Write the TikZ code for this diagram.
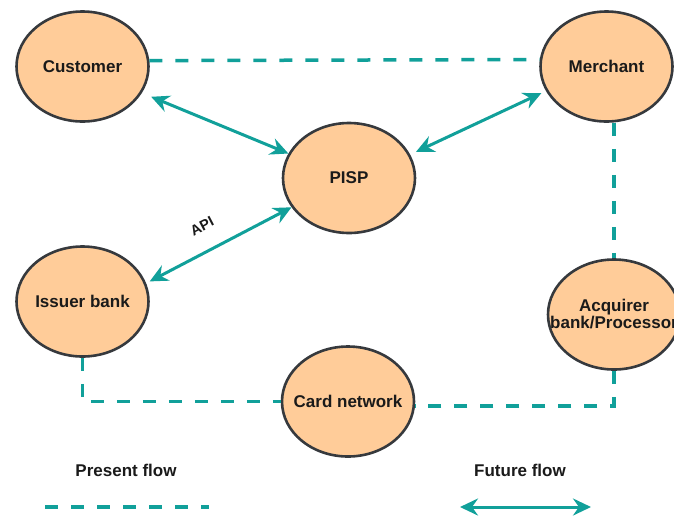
\documentclass[tikz,border=0pt]{standalone}
\usepackage{fontspec}
\setmainfont{Liberation Sans}
\usetikzlibrary{shapes.geometric,arrows.meta}
\definecolor{teal1}{HTML}{11A09A}
\definecolor{peach}{HTML}{FFCC99}
\definecolor{rim}{HTML}{36393D}
\definecolor{ink}{HTML}{1A1A1A}
\begin{document}
\begin{tikzpicture}[x=1pt,y=-1pt,
 party/.style={ellipse, draw=rim, fill=peach, line width=2.6pt, minimum width=132pt, minimum height=110pt, inner sep=0pt},
 lbl/.style={font=\bfseries\fontsize{17}{17}\selectfont, text=ink, align=center},
 present/.style={draw=teal1, line width=3.5pt, dash pattern=on 13pt off 13pt},
 tipA/.tip={Stealth[length=18pt,width=17pt,inset=6pt]},
 future/.style={draw=teal1, line width=3pt, tipA-tipA}
]
\useasboundingbox (0,0) rectangle (674,515);
\node[party, label={[lbl]center:Customer}] (cust) at (82.5,66.5) {};
\node[party, label={[lbl]center:Merchant}] (merch) at (606.5,66.5) {};
\node[party, label={[lbl]center:PISP}] (pisp) at (349,178) {};
\node[party, label={[lbl]center:Issuer bank}] (iss) at (82.5,301.5) {};
\node[party, label={[lbl]center:{Acquirer\\bank/Processor}}] (acq) at (614,314.5) {};
\node[party, label={[lbl]center:Card network}] (card) at (348,401.5) {};
% present flows
\draw[present] (cust.5.5) -- (merch.174.4);
\draw[present] (merch.south -| acq.north) -- (acq.north);
\draw[present] (acq.south) |- (card.-4.6);
\draw[present] (iss.south) |- (card.west);
% future flows
\draw[future, shorten <=10pt] (cust.-24.7) -- (pisp.158);
\draw[future, shorten <=6.5pt, shorten >=5pt] (pisp.21) -- (merch.202.3);
\draw[future, shorten <=4pt] (iss.16) -- (pisp.207.8);
\node[rotate=27.5, font=\bfseries\fontsize{14.5}{14.5}\selectfont, text=ink] (api) at (202,226) {API};
% legend
\node[lbl] (pres) at (126,470) {Present flow};
\node[lbl] (fut) at (520,470) {Future flow};
\coordinate (p1) at (45,507);
\coordinate (p2) at (209,507);
\draw[present] (p1) -- (p2);
\coordinate (f1) at (460,507);
\coordinate (f2) at (591,507);
\draw[future] (f1) -- (f2);
\end{tikzpicture}
\end{document}
